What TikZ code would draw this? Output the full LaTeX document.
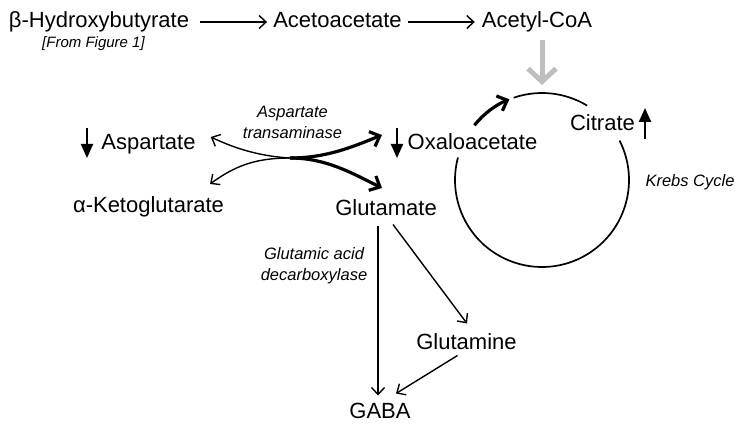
\documentclass[tikz,border=0pt]{standalone}
\usepackage{fontspec}
\setmainfont{Liberation Sans}
\usetikzlibrary{arrows.meta}
\definecolor{lgray}{RGB}{190,190,190}
\begin{document}
\begin{tikzpicture}[x=1pt,y=-1pt,
  lbl/.style={inner sep=0pt, font=\fontsize{22}{26}\selectfont, text height=16pt, text depth=4.6pt},
  enz/.style={inner sep=0pt, font=\fontsize{16.5}{21}\selectfont\itshape, align=center},
  conn/.style={line width=1.4pt, -{Straight Barb[length=7pt,width=13pt]}},
  thickconn/.style={line width=3.2pt, -{Straight Barb[length=8.5pt,width=16pt]}},
  grayarr/.style={draw=lgray, line width=5pt, -{Straight Barb[length=13pt,width=28pt]}},
  levelarr/.style={line width=2.2pt, -{Triangle[length=14pt,width=12pt]}},
  cyc/.style={line width=1.7pt}
]
\useasboundingbox (0,0) rectangle (750,433);

% labels
\node[lbl] (hb) at (99,22) {β-Hydroxybutyrate};
\node[enz, font=\fontsize{15}{18}\selectfont\itshape] (fig) at (93.5,44) {[From Figure 1]};
\node[lbl] (aa) at (337.5,22) {Acetoacetate};
\node[lbl] (acoa) at (537,22) {Acetyl-CoA};
\node[lbl] (asp) at (148.5,144) {Aspartate};
\node[lbl] (akg) at (148.5,207) {α-Ketoglutarate};
\node[lbl] (oaa) at (472.5,144) {Oxaloacetate};
\node[lbl] (cit) at (602.5,125) {Citrate};
\node[lbl] (glu) at (386,210) {Glutamate};
\node[lbl] (glm) at (466.5,344) {Glutamine};
\node[lbl] (gaba) at (380,413) {GABA};
\node[enz] (ast) at (292.5,122) {Aspartate\\transaminase};
\node[enz] (gad) at (314,266) {Glutamic acid\\decarboxylase};
\node[enz] (krebs) at (690,182) {Krebs Cycle};

% top row
\draw[conn] ([shift={(11,0)}]hb.east) -- ([shift={(-6,0)}]aa.west);
\draw[conn] ([shift={(6,0)}]aa.east) -- ([shift={(-7,0)}]acoa.west);

% Krebs cycle
\coordinate (kc) at (542,180);
\coordinate (ktop) at (542,93);
\draw[grayarr] ([shift={(0,8)}]acoa.south -| ktop) -- ([shift={(0,-8)}]ktop);
\draw[cyc] ([shift={(-109:87)}]kc) arc[start angle=-109, end angle=-58.7, radius=87];
\draw[cyc] ([shift={(-27:87)}]kc) arc[start angle=-27, end angle=195, radius=87];
\draw[thickconn] ([shift={(-141:87)}]kc) arc[start angle=-141, end angle=-112, radius=87];

% level arrows
\coordinate (aspA) at (87,128);  \coordinate (aspB) at (87,158);
\coordinate (oaaA) at (397,128); \coordinate (oaaB) at (397,158);
\coordinate (citA) at (645,139); \coordinate (citB) at (645,108);
\draw[levelarr] (aspA) -- (aspB);
\draw[levelarr] (oaaA) -- (oaaB);
\draw[levelarr] (citA) -- (citB);

% transaminase
\coordinate (tx) at (290,158);
\coordinate (aspE) at ([shift={(15,-7)}]asp.east);
\coordinate (akgE) at (210,184);
\coordinate (oaaW) at (382,135);
\coordinate (gluW) at (382,188);
\draw[conn] (tx) .. controls (255,156) and (230,146) .. (aspE);
\draw[conn] (tx) .. controls (255,158) and (235,166) .. (akgE);
\draw[thickconn] (tx) .. controls (325,158) and (350,148) .. (oaaW);
\draw[thickconn] (tx) .. controls (325,158) and (350,172) .. (gluW);

% glutamate branch
\draw[conn] ([shift={(-8,5)}]glu.south) -- ([shift={(-2,-7)}]gaba.north);
\draw[conn] ([shift={(7,4)}]glu.south) -- ([shift={(0.5,-10)}]glm.north);
\draw[conn] ([shift={(-9,1)}]glm.south) -- ([shift={(16,-9)}]gaba.north);
\end{tikzpicture}
\end{document}
